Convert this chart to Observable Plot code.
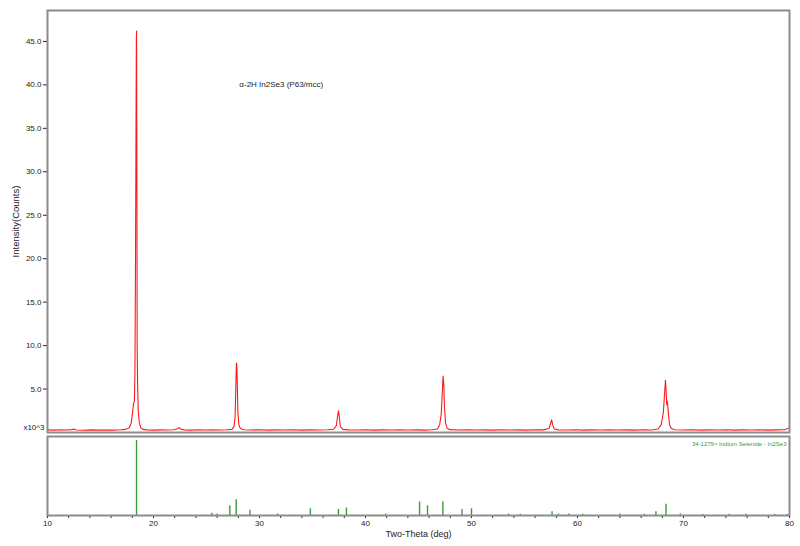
<!DOCTYPE html>
<html>
<head>
<meta charset="utf-8">
<script src="https://cdn.jsdelivr.net/npm/d3@7"></script>
<script src="https://cdn.jsdelivr.net/npm/@observablehq/plot@0.6"></script>
<style>
  html, body { margin: 0; padding: 0; background: #fff; }
  #chart { position: relative; width: 800px; height: 546px; font-family: "Liberation Sans", Arial, sans-serif; }
  #chart svg { display: block; }
</style>
</head>
<body>
<div id="chart"></div>
<script>
// Measured XRD trace (2θ in degrees, intensity in thousands of counts)
const twoTheta = [10.0,10.6,11.2,11.8,12.3,12.5,12.7,13.4,14.1,14.8,15.5,16.2,16.9,17.4,17.7,17.9,18.05,18.12,18.2,18.25,18.3,18.34,18.38,18.40,18.43,18.46,18.5,18.56,18.65,18.8,19.0,19.4,20.0,20.7,21.3,21.9,22.2,22.4,22.6,22.9,23.5,24.2,24.9,25.6,26.3,26.9,27.4,27.6,27.7,27.76,27.82,27.86,27.9,27.96,28.05,28.2,28.5,29.2,30.0,30.8,31.6,32.4,33.2,34.0,34.8,35.6,36.4,37.0,37.25,37.38,37.45,37.52,37.62,37.85,38.4,39.2,40.0,40.8,41.6,42.4,43.2,44.0,44.8,45.6,46.3,46.8,47.0,47.15,47.25,47.32,47.38,47.45,47.55,47.7,48.0,48.8,49.6,50.4,51.2,52.0,52.8,53.6,54.4,55.2,56.0,56.8,57.3,57.45,57.56,57.66,57.8,58.2,59.0,59.8,60.6,61.4,62.2,63.0,63.8,64.6,65.4,66.2,67.0,67.6,67.9,68.1,68.22,68.3,68.36,68.42,68.48,68.56,68.68,68.85,69.2,70.0,70.8,71.6,72.4,73.2,74.0,74.8,75.6,76.4,77.2,78.0,78.8,79.5,79.85,80.0];
const counts   = [0.30,0.27,0.31,0.28,0.33,0.40,0.29,0.26,0.30,0.27,0.29,0.27,0.31,0.36,0.55,1.1,2.6,3.4,3.6,7.2,19.0,31.5,45.0,46.2,31.5,10.0,5.5,2.6,1.2,0.55,0.36,0.30,0.27,0.30,0.28,0.31,0.40,0.55,0.38,0.30,0.27,0.31,0.28,0.30,0.28,0.31,0.36,0.7,1.8,4.9,8.0,7.7,5.8,2.4,0.9,0.45,0.32,0.29,0.31,0.27,0.30,0.28,0.31,0.27,0.30,0.28,0.31,0.38,0.8,2.0,2.5,1.9,0.7,0.36,0.30,0.28,0.31,0.27,0.30,0.28,0.31,0.28,0.30,0.27,0.31,0.4,0.9,2.2,4.9,6.5,5.6,3.0,1.1,0.5,0.33,0.29,0.31,0.28,0.30,0.27,0.31,0.28,0.30,0.27,0.31,0.30,0.45,1.0,1.45,0.9,0.4,0.30,0.28,0.31,0.27,0.30,0.28,0.31,0.29,0.30,0.27,0.31,0.29,0.40,0.9,2.3,4.6,6.0,4.8,3.2,3.6,2.4,0.9,0.45,0.32,0.29,0.31,0.27,0.30,0.28,0.31,0.27,0.30,0.28,0.31,0.27,0.30,0.32,0.45,0.55];

// Reference pattern 34-1279 (stick positions and relative intensities, %)
const stickTheta     = [18.4,25.5,26.0,27.2,27.8,29.1,31.7,34.8,37.45,38.2,41.9,45.1,45.85,47.3,49.1,50.0,53.5,54.6,57.6,58.2,59.2,60.5,64.0,66.3,67.4,68.35,69.7,71.8,74.3,75.9,78.6,79.8];
const stickIntensity = [100,3,2,13,21,7,2,9,8,10,2,18,13,18,8,9,2,1.5,5,2,2,1.5,2,1.5,5,15,2,1.5,1.5,1.5,1.5,1.5];

const yTicks = [5,10,15,20,25,30,35,40,45];
const xMajor = [10,20,30,40,50,60,70,80];
const xMinor = d3.range(10, 81, 2);

const annotation = "\u03b1-2H In2Se3 (P63/mcc)";
const refLabel = "34-1279> Indium Selenide - In2Se3";
const unitLabel = "x10^3";

const trace = twoTheta.map((t, i) => ({t, c: counts[i]}));
const sticks = stickTheta.map((t, i) => ({t, v: stickIntensity[i]}));

const font = "Liberation Sans, Arial, sans-serif";
const frameColor = "#8c8c8c";
const green = "#3a9a3a";

const topPanel = Plot.plot({
  width: 800, height: 434,
  marginLeft: 47, marginRight: 11, marginTop: 10, marginBottom: 2,
  style: {fontFamily: font, fontSize: "8px", color: "#222", background: "#fff"},
  x: {domain: [10, 80]},
  y: {domain: [0, 48.56]},
  marks: [
    Plot.axisX({ticks: [], label: null}),
    Plot.axisY({
      ticks: yTicks, tickSize: 4, tickPadding: 2,
      tickFormat: d => d.toFixed(1), label: null, fontSize: 8
    }),
    Plot.axisY({
      ticks: [], label: "Intensity(Counts)", labelAnchor: "center", labelArrow: "none",
      labelOffset: 35, fontSize: 9.5
    }),
    Plot.text([unitLabel], {frameAnchor: "bottom-left", text: d => d, textAnchor: "end", dx: -3, dy: -3, fontSize: 8, fill: "#222"}),
    Plot.line(trace, {x: "t", y: "c", stroke: "#ff1a1a", strokeWidth: 1.1}),
    Plot.text([annotation], {x: 28.1, y: 40.0, text: d => d, textAnchor: "start", fontSize: 8, fill: "#222"}),
    Plot.frame({stroke: frameColor, strokeWidth: 2})
  ]
});

const bottomPanel = Plot.plot({
  width: 800, height: 112,
  marginLeft: 47, marginRight: 11, marginTop: 2, marginBottom: 31,
  style: {fontFamily: font, fontSize: "8px", color: "#222", background: "#fff"},
  x: {domain: [10, 80]},
  y: {domain: [0, 105.3]},
  marks: [
    Plot.axisY({ticks: [], label: null}),
    Plot.axisX({ticks: xMinor, tickSize: 3, tickFormat: () => "", label: null}),
    Plot.axisX({ticks: xMajor, tickSize: 3, tickPadding: 2, tickFormat: d => String(d), label: null, fontSize: 8}),
    Plot.axisX({ticks: [], label: "Two-Theta (deg)", labelAnchor: "center", labelArrow: "none", labelOffset: 21, fontSize: 9}),
    Plot.ruleX(sticks, {x: "t", y1: 0, y2: "v", stroke: green, strokeWidth: 1.4}),
    Plot.text([refLabel], {frameAnchor: "top-right", text: d => d, dx: -3, dy: 5, fill: green, fontSize: 6}),
    Plot.frame({stroke: frameColor, strokeWidth: 2})
  ]
});

const chart = document.getElementById("chart");
chart.appendChild(topPanel);
chart.appendChild(bottomPanel);
</script>
</body>
</html>
